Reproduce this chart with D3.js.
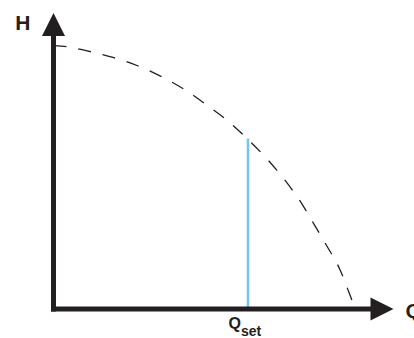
<!DOCTYPE html>
<html>
<head>
<meta charset="utf-8">
<script src="https://cdn.jsdelivr.net/npm/d3@7"></script>
<style>
  body { margin: 0; background: #fff; }
  svg { display: block; }
  text { font-family: "Liberation Sans", Arial, sans-serif; font-weight: bold; fill: #231f20; }
</style>
</head>
<body>
<div id="chart"></div>
<script>
// pump curve (axes go 0..100 in both directions)
const qValues = [0, 4, 9.9, 17.5, 24.9, 31.9, 39, 45.4, 51.6, 56.9, 62.8, 67.8, 72.5, 76.6, 80.4, 84.3, 87.2, 88.1];
const hValues = [89, 88.6, 87.2, 85.0, 82.1, 78.4, 73.8, 68.6, 63.2, 57.6, 50.7, 43.9, 36.5, 28.7, 21.3, 13.2, 4.7, 2.0];
const qSet = 57.2;
const hSet = 57.6;
const axisLabels = ["H", "Q"];
const setLabel = ["Q", "set"];

const width = 414, height = 338;
const ink = "#231f20";

const svg = d3.select("#chart").append("svg")
    .attr("width", width)
    .attr("height", height);

const x = d3.scaleLinear().domain([0, 100]).range([53.5, 393.5]);
const y = d3.scaleLinear().domain([0, 100]).range([309, 13]);

const curve = qValues.map((q, i) => ({ q: q, h: hValues[i] }));

const line = d3.line()
    .x(d => x(d.q))
    .y(d => y(d.h))
    .curve(d3.curveMonotoneX);

// dashed curve
svg.append("path")
    .datum(curve)
    .attr("d", line)
    .attr("fill", "none")
    .attr("stroke", ink)
    .attr("stroke-width", 1.3)
    .attr("stroke-dasharray", "13,12");

// set point marker
svg.append("line")
    .attr("x1", x(qSet)).attr("x2", x(qSet))
    .attr("y1", y(0)).attr("y2", y(hSet))
    .attr("stroke", "#72c7ee")
    .attr("stroke-width", 2.5);

// axes with arrow heads
const sw = 5, head = 23, half = 11.5;
svg.append("line")
    .attr("x1", x(0)).attr("x2", x(0))
    .attr("y1", y(0) + sw / 2).attr("y2", y(100) + head - 1)
    .attr("stroke", ink).attr("stroke-width", sw);
svg.append("line")
    .attr("x1", x(0) - sw / 2).attr("x2", x(100) - head + 1)
    .attr("y1", y(0)).attr("y2", y(0))
    .attr("stroke", ink).attr("stroke-width", sw);

svg.append("path")
    .attr("d", `M${x(0)},${y(100)}L${x(0) - half},${y(100) + head}L${x(0) + half},${y(100) + head}Z`)
    .attr("fill", ink);
svg.append("path")
    .attr("d", `M${x(100)},${y(0)}L${x(100) - head},${y(0) - half}L${x(100) - head},${y(0) + half}Z`)
    .attr("fill", ink);

// labels
svg.append("text")
    .attr("x", x(0) - 23).attr("y", 29.5)
    .attr("text-anchor", "end")
    .attr("font-size", 21)
    .text(axisLabels[0]);
svg.append("text")
    .attr("x", x(100) + 12).attr("y", y(0) + 8.5)
    .attr("font-size", 21)
    .text(axisLabels[1]);

const lbl = svg.append("text")
    .attr("x", 228.5)
    .attr("y", 328.5)
    .attr("font-size", 16);
lbl.append("tspan").text(setLabel[0]);
lbl.append("tspan")
    .attr("dy", 7)
    .attr("font-size", 14)
    .text(setLabel[1]);
</script>
</body>
</html>
